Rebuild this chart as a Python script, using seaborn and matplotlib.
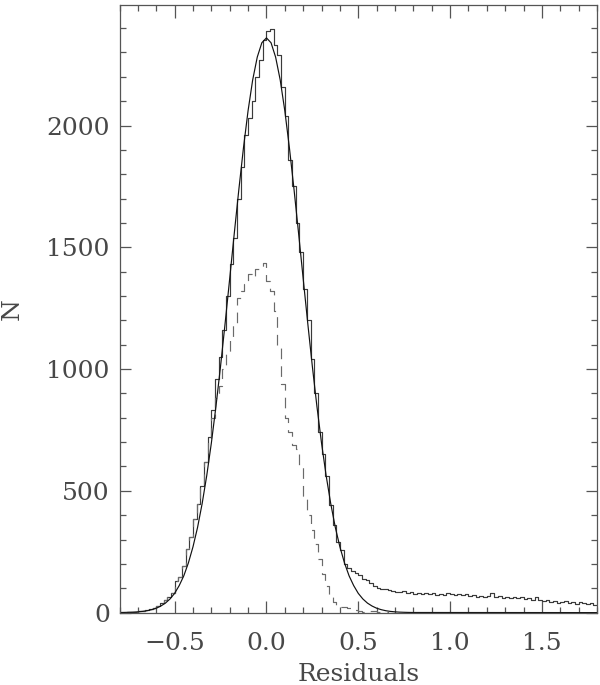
import matplotlib
matplotlib.use("Agg")
import matplotlib.pyplot as plt
import numpy as np
import pandas as pd
import seaborn as sns
from matplotlib.ticker import MultipleLocator

# bins of width 0.02 from -0.8 to 1.8 (left edges)
bin_width = 0.02
bin_start = -0.8

# all residuals (solid histogram), one count per bin
counts_all = [
    0, 0, 1, 2, 3, 5, 8, 10, 14, 20,
    27, 40, 52, 66, 82, 128, 148, 190, 262, 310,
    385, 445, 520, 620, 720, 830, 960, 1050, 1160, 1300,
    1430, 1540, 1700, 1830, 1960, 2030, 2100, 2200, 2270, 2350,
    2390, 2395, 2330, 2290, 2160, 2040, 1860, 1750, 1600, 1480,
    1330, 1200, 1040, 900, 740, 650, 560, 440, 360, 290,
    255, 200, 185, 170, 162, 155, 140, 132, 120, 108,
    103, 98, 96, 92, 90, 86, 84, 88, 80, 84,
    78, 82, 77, 80, 75, 79, 74, 77, 72, 82,
    76, 74, 78, 71, 75, 70, 73, 66, 70, 64,
    68, 80, 66, 70, 61, 65, 60, 63, 58, 62,
    55, 58, 52, 66, 50, 47, 51, 44, 48, 40,
    44, 47, 38, 42, 37, 44, 40, 36, 39, 32,
]

# subset (dashed histogram)
counts_sub = [
    0, 0, 1, 2, 3, 5, 8, 10, 14, 20,
    27, 40, 52, 66, 82, 128, 148, 190, 262, 310,
    385, 445, 520, 620, 710, 800, 880, 930, 1000, 1070,
    1120, 1190, 1290, 1320, 1350, 1390, 1380, 1410, 1420, 1436,
    1360, 1320, 1240, 1100, 940, 800, 740, 690, 670, 600,
    480, 400, 340, 280, 220, 160, 110, 70, 45, 32,
    25, 22, 18, 12, 10, 6, 3, 5, 6, 7,
    4, 3, 2, 0, 0, 0, 0, 0, 0, 0,
    0, 0, 0, 0, 0, 0, 0, 0, 0, 0,
    0, 0, 0, 0, 0, 0, 0, 0, 0, 0,
    0, 0, 0, 0, 0, 0, 0, 0, 0, 0,
    0, 0, 0, 0, 0, 0, 0, 0, 0, 0,
    0, 0, 0, 0, 0, 0, 0, 0, 0, 0,
]

# gaussian fit curve, read every 0.025 (flat at zero past +-0.8)
fit_x = [-0.8 + 0.025 * i for i in range(65)] + [1.8]
fit_half = [2360, 2340, 2281, 2187, 2061, 1909, 1739, 1558, 1372, 1188,
            1011, 846, 696, 563, 448, 350, 270, 204, 151, 111,
            79, 56, 39, 27, 18, 12, 7.7, 4.9, 3.1, 1.9,
            1.2, 0.7, 0.4]
fit_y = fit_half[::-1] + fit_half[1:] + [0]

x_major = [-0.5, 0.0, 0.5, 1.0, 1.5]
y_major = [0, 500, 1000, 1500, 2000]

edges = [round(bin_start + bin_width * i, 3) for i in range(len(counts_all) + 1)]
centers = [e + bin_width / 2 for e in edges[:-1]]
df = pd.DataFrame({"x": centers, "all": counts_all, "sub": counts_sub})
fit = pd.DataFrame({"x": fit_x, "y": fit_y})

sns.set_style("ticks")
plt.rcParams["font.family"] = ["DejaVu Serif"]
txt = "#484848"

fig = plt.figure(figsize=(6, 6.85), dpi=100)
ax = fig.add_axes([0.1992, 0.1057, 0.7958, 0.887])

sns.histplot(data=df, x="x", weights="all", bins=edges, element="step",
             fill=False, color="#3a3a3a", linewidth=0.85, ax=ax)
sns.histplot(data=df, x="x", weights="sub", bins=edges, element="step",
             fill=False, color="#6a6a6a", linewidth=0.85,
             linestyle=(0, (9, 6)), ax=ax)
sns.lineplot(data=fit, x="x", y="y", color="#111111", linewidth=0.85, ax=ax)

ax.set_xlim(-0.8, 1.8)
ax.set_ylim(0, 2495)
ax.set_xticks(x_major)
ax.set_yticks(y_major)
ax.xaxis.set_minor_locator(MultipleLocator(0.1))
ax.yaxis.set_minor_locator(MultipleLocator(100))
ax.tick_params(which="both", direction="in", top=True, right=True,
               color="#555555", width=0.9, labelcolor=txt, labelsize=18)
ax.tick_params(axis="x", which="major", length=9, pad=14)
ax.tick_params(axis="y", which="major", length=8, pad=7)
ax.tick_params(which="minor", length=4.5)
for s in ax.spines.values():
    s.set_color("#555555")
    s.set_linewidth(0.9)

ax.set_xlabel("Residuals", fontsize=18, color=txt, labelpad=6)
ax.set_ylabel("N", fontsize=18, color=txt, labelpad=16)

fig.savefig("out.png", dpi=100)
